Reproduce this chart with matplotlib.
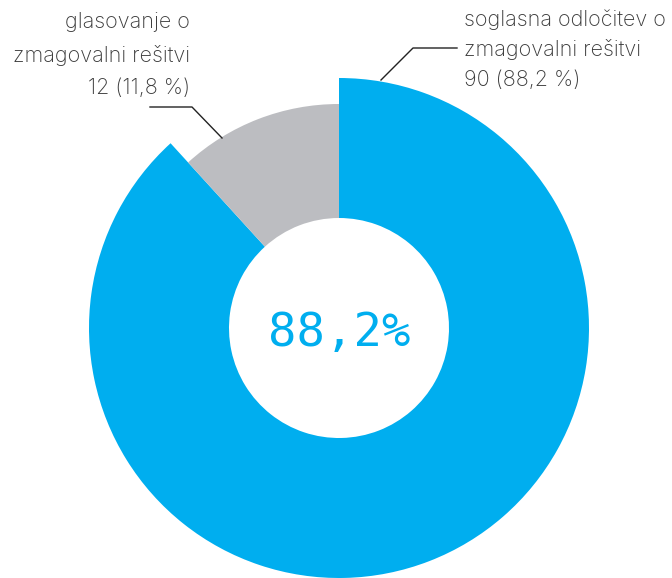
import matplotlib
matplotlib.use("Agg")
import matplotlib.pyplot as plt

categories = ["soglasna odločitev o\nzmagovalni rešitvi", "glasovanje o\nzmagovalni rešitvi"]
values = [90, 12]
percent_labels = ["90 (88,2 %)", "12 (11,8 %)"]
center_label = "88,2%"
colors = ["#00AEEF", "#BCBDC1"]

W, H = 672, 578
fig = plt.figure(figsize=(W / 100, H / 100), dpi=100)
ax = fig.add_axes([0, 0, 1, 1])

cx, cy = 339, H - 328
wedges, _ = ax.pie(values, colors=colors, startangle=90, counterclock=False,
                   center=(cx, cy), radius=250,
                   wedgeprops=dict(width=140, linewidth=0))
wedges[1].set_radius(224)
wedges[1].set_width(114)

ax.set_xlim(0, W)
ax.set_ylim(0, H)
ax.set_aspect("equal")
ax.axis("off")

ax.text(cx, H - 333, center_label, ha="center", va="center",
        fontsize=34, color=colors[0], family="DejaVu Sans Mono")

txt_kw = dict(fontsize=15.5, color="#3a3a3a", family="Inter", fontweight="light")
# right label (blue slice)
ax.plot([381, 413, 457], [H - 80, H - 48, H - 48], color="#222222", lw=1)
ax.text(464, H - 20, "soglasna odločitev o", ha="left", va="center", **txt_kw)
ax.text(464, H - 50, "zmagovalni rešitvi", ha="left", va="center", **txt_kw)
ax.text(464, H - 80, percent_labels[0], ha="left", va="center", **txt_kw)
# left label (gray slice)
ax.plot([222, 192, 150], [H - 138, H - 107, H - 107], color="#222222", lw=1)
ax.text(190, H - 22, "glasovanje o", ha="right", va="center", **txt_kw)
ax.text(190, H - 56, "zmagovalni rešitvi", ha="right", va="center", **txt_kw)
ax.text(190, H - 88, percent_labels[1], ha="right", va="center", **txt_kw)

fig.savefig("out.png", dpi=100)
